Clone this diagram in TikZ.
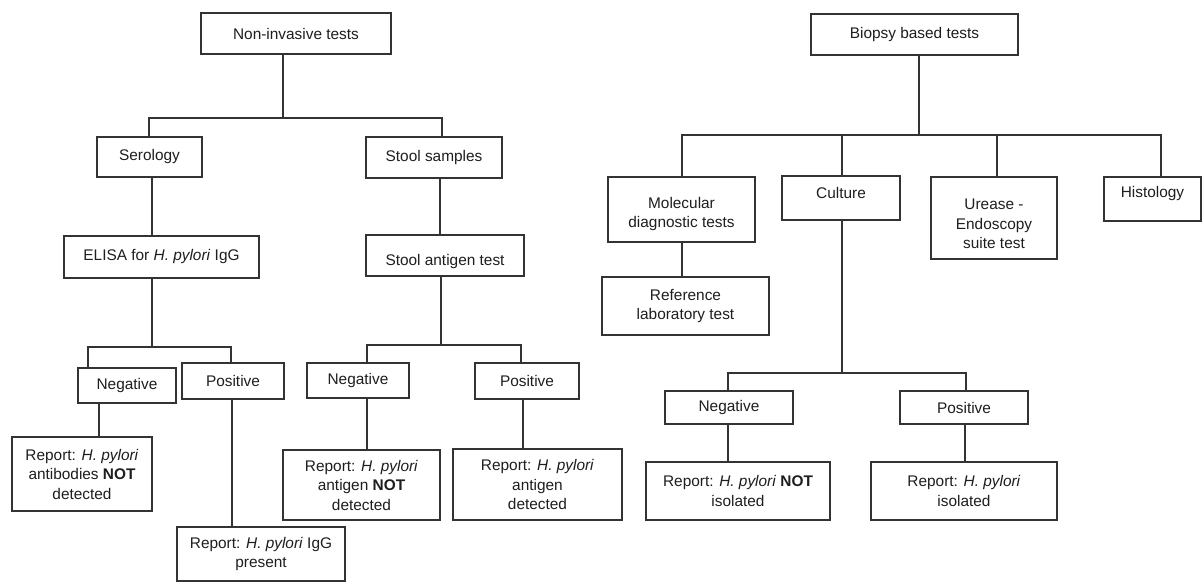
\documentclass[tikz,border=0pt]{standalone}
\usepackage{fontspec}
\setmainfont{Liberation Sans}
\definecolor{linec}{HTML}{333333}
\definecolor{textc}{HTML}{1E1E1E}
\begin{document}
\begin{tikzpicture}[x=1pt,y=-1pt,
  box/.style={draw=linec, line width=1.2pt, fill=white, inner sep=0pt, align=center,
    font=\fontsize{15.4}{19.5}\selectfont, text=textc},
  lbl/.style={inner sep=0pt, align=center, font=\fontsize{15.4}{19.5}\selectfont, text=textc},
  conn/.style={draw=linec, line width=1.2pt}]
\useasboundingbox[fill=white] (0,0) rectangle (1202,583);

% ---------- left tree ----------
\node[box, minimum width=190pt, minimum height=41pt] (nit) at (296,33.5) {Non-invasive tests};
\node[box, minimum width=105pt, minimum height=40pt] (ser) at (149.5,157) {Serology};
\node[box, minimum width=136pt, minimum height=41pt] (stool) at (434,157.5) {Stool samples};
\node[box, minimum width=195pt, minimum height=42pt] (elisa) at (161.5,257) {ELISA for \textit{H. pylori} IgG};
\node[box, minimum width=158pt, minimum height=41pt,
  label={[lbl,yshift=-6pt]center:Stool antigen test}] (sat) at (445,255.5) {};
\node[box, minimum width=98pt, minimum height=35pt] (neg1) at (127,385.5) {Negative};
\node[box, minimum width=102pt, minimum height=36pt] (pos1) at (233,381) {Positive};
\node[box, minimum width=102pt, minimum height=35pt] (neg2) at (358,380.5) {Negative};
\node[box, minimum width=104pt, minimum height=36pt] (pos2) at (527,381) {Positive};
\node[box, minimum width=140pt, minimum height=74pt] (rep1) at (82,474)
  {Report: \textit{H. pylori}\\antibodies \textbf{NOT}\\detected};
\node[box, minimum width=168pt, minimum height=54pt] (rep2) at (261,554)
  {Report: \textit{H. pylori} IgG\\present};
\node[box, minimum width=157pt, minimum height=70pt] (rep3) at (361.5,485)
  {Report: \textit{H. pylori}\\antigen \textbf{NOT}\\detected};
\node[box, minimum width=169pt, minimum height=71pt] (rep4) at (537.5,484.5)
  {Report: \textit{H. pylori}\\antigen\\detected};

\coordinate (j1) at (283,118);
\coordinate (j2) at (152,347);
\coordinate (j3) at (441,345);

\draw[conn] (nit.south -| j1) -- (j1);
\draw[conn] ([xshift=-0.5pt]ser.north) |- (j1) -| ([xshift=8pt]stool.north);
\draw[conn] ([xshift=2.5pt]ser.south) -- ([xshift=2.5pt]ser.south |- elisa.north);
\draw[conn] (elisa.south -| j2) -- (j2);
\draw[conn] ([xshift=-39pt]neg1.north) |- (j2) -| ([xshift=-2pt]pos1.north);
\draw[conn] ([xshift=-28pt]neg1.south) -- ([xshift=-28pt]neg1.south |- rep1.north);
\draw[conn] ([xshift=-1pt]pos1.south) -- ([xshift=-1pt]pos1.south |- rep2.north);
\draw[conn] ([xshift=6pt]stool.south) -- ([xshift=6pt]stool.south |- sat.north);
\draw[conn] (sat.south -| j3) -- (j3);
\draw[conn] ([xshift=9pt]neg2.north) |- (j3) -| ([xshift=-6pt]pos2.north);
\draw[conn] ([xshift=9pt]neg2.south) -- ([xshift=9pt]neg2.south |- rep3.north);
\draw[conn] ([xshift=-4pt]pos2.south) -- ([xshift=-4pt]pos2.south |- rep4.north);

% ---------- right tree ----------
\node[box, minimum width=207pt, minimum height=41pt] (bio) at (914.5,34.5) {Biopsy based tests};
\node[box, minimum width=147pt, minimum height=65pt,
  label={[lbl,yshift=-4.5pt]center:{Molecular\\diagnostic tests}}] (mol) at (681.5,209.5) {};
\node[box, minimum width=118pt, minimum height=44pt,
  label={[lbl,yshift=5pt]center:Culture}] (cul) at (841,198) {};
\node[box, minimum width=126pt, minimum height=82pt,
  label={[lbl,yshift=-6pt]center:{Urease -\\Endoscopy\\suite test}}] (ure) at (994,218) {};
\node[box, minimum width=97pt, minimum height=44pt,
  label={[lbl,yshift=5pt]center:Histology}] (his) at (1152.5,199) {};
\node[box, minimum width=167pt, minimum height=58pt] (ref) at (685.5,306)
  {Reference\\laboratory test};
\node[box, minimum width=128pt, minimum height=33pt] (neg3) at (729,407.5) {Negative};
\node[box, minimum width=128pt, minimum height=33pt] (pos3) at (964,407.5) {Positive};
\node[box, minimum width=184pt, minimum height=58pt] (rep5) at (738,491)
  {Report: \textit{H. pylori} \textbf{NOT}\\isolated};
\node[box, minimum width=186pt, minimum height=58pt] (rep6) at (964,491)
  {Report: \textit{H. pylori}\\isolated};

\coordinate (j4) at (919,135);
\coordinate (j5) at (842,373);

\draw[conn] (bio.south -| j4) -- (j4);
\draw[conn] ([xshift=0.5pt]mol.north) |- (j4) -| ([xshift=8.5pt]his.north);
\draw[conn] ([xshift=1pt]cul.north) -- ([xshift=1pt]cul.north |- j4);
\draw[conn] ([xshift=3pt]ure.north) -- ([xshift=3pt]ure.north |- j4);
\draw[conn] ([xshift=0.5pt]mol.south) -- ([xshift=0.5pt]mol.south |- ref.north);
\draw[conn] (cul.south -| j5) -- (j5);
\draw[conn] ([xshift=-1pt]neg3.north) |- (j5) -| ([xshift=2pt]pos3.north);
\draw[conn] ([xshift=-1pt]neg3.south) -- ([xshift=-1pt]neg3.south |- rep5.north);
\draw[conn] ([xshift=1pt]pos3.south) -- ([xshift=1pt]pos3.south |- rep6.north);
\end{tikzpicture}
\end{document}
